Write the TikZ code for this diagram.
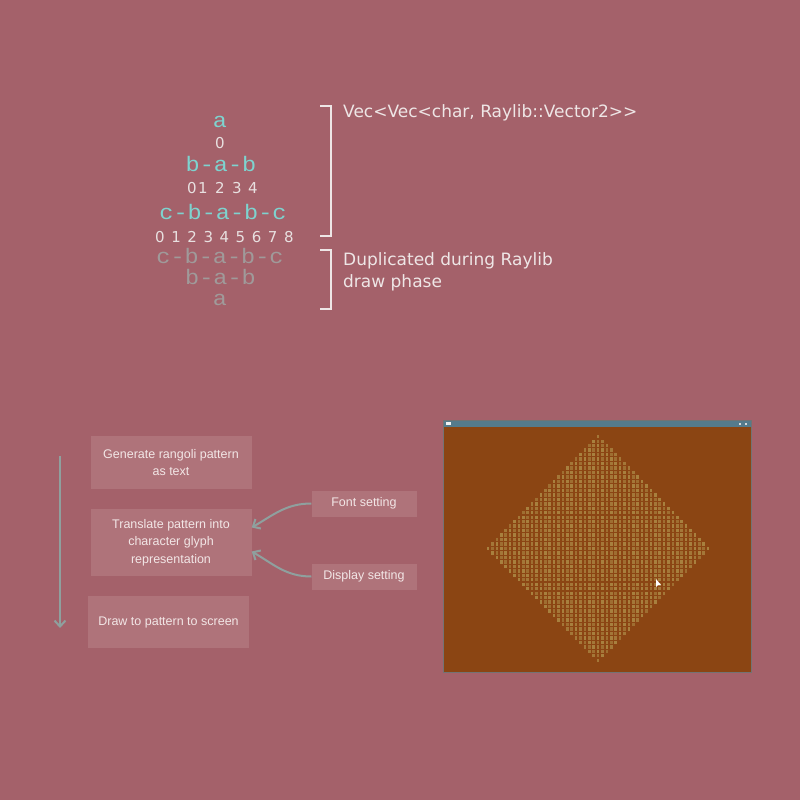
\documentclass[tikz,border=0pt]{standalone}
\usepackage{fontspec}
\setmainfont{Liberation Sans}
\newfontfamily\monofont[FakeStretch=1.12]{Liberation Mono}
\newfontfamily\dejafont{DejaVu Sans}
\usetikzlibrary{arrows.meta}

\definecolor{bgcol}{HTML}{A4616A}
\definecolor{boxcol}{HTML}{AF737A}
\definecolor{boxtext}{HTML}{F2E6E6}
\definecolor{arrowcol}{HTML}{8FA09E}
\definecolor{tealcol}{HTML}{7ED3CF}
\definecolor{dupcol}{HTML}{A09A9A}
\definecolor{digitcol}{HTML}{E8E0E0}
\definecolor{brackcol}{HTML}{EEE6E6}
\definecolor{screencol}{HTML}{8B4513}
\definecolor{titlecol}{HTML}{557B8C}
\definecolor{dotcol}{HTML}{A8803E}

\tikzset{
  stepbox/.style={fill=boxcol, text=boxtext, align=center, inner sep=0pt,
    minimum width=161pt, font=\fontsize{12.5}{17.5}\selectfont},
  sidebox/.style={stepbox, minimum width=105pt, minimum height=26pt},
  flowarrow/.style={draw=arrowcol, line width=2pt,
    -{Straight Barb[length=6pt, width=11pt, line width=2pt]}},
  letters/.style={font=\monofont\fontsize{21}{21}\selectfont, inner sep=0pt, anchor=base,
    text height=13pt, text depth=0pt},
  digit/.style={font=\dejafont\fontsize{15}{15}\selectfont, text=digitcol, inner sep=0pt, anchor=base,
    text height=11pt, text depth=0pt},
  note/.style={font=\dejafont\fontsize{17}{22}\selectfont, text=brackcol, inner sep=0pt, align=left}
}

\begin{document}
\begin{tikzpicture}[x=1pt, y=-1pt]
    % 0. Background
    \fill[bgcol] (0,0) rectangle (800,800);

    % 1. Rangoli rows as text
    \node[letters, text=tealcol] (rowA) at (220,127) {a};
    \node[digit] (numA) at (220,148) {0};
    \node[letters, text=tealcol] (rowB) at (221,171) {b-a-b};
    \foreach \d/\x in {0/192, 1/203, 2/220, 3/237, 4/253}
        \node[digit] (numB\d) at (\x,193) {\d};
    \node[letters, text=tealcol] (rowC) at (223,219) {c-b-a-b-c};
    \foreach \d in {0,...,8}
        \node[digit] (numC\d) at ({160+16.1*\d},242) {\d};
    \node[letters, text=dupcol] (dupC) at (220,263) {c-b-a-b-c};
    \node[letters, text=dupcol] (dupB) at (220.5,284) {b-a-b};
    \node[letters, text=dupcol] (dupA) at (220,305) {a};

    % 2. Brackets and their notes
    \draw[brackcol, line width=1.8pt] (320,106) -- (331,106) -- (331,236) -- (320,236);
    \draw[brackcol, line width=1.8pt] (320,250) -- (331,250) -- (331,309) -- (320,309);
    \node[note, anchor=base west] (vecType) at (343,117) {Vec<Vec<char, Raylib::Vector2>>};
    \node[note, anchor=base west] (dupNote) at (343,287) {Duplicated during Raylib\\draw phase};

    % 3. Steps of the program
    \node[stepbox, minimum height=53pt] (generate) at (171,462.5)
        {Generate rangoli pattern\\as text};
    \node[stepbox, minimum height=67pt] (translate) at (171,542.5)
        {Translate pattern into\\character glyph\\representation};
    \node[stepbox, minimum height=52pt] (drawscreen) at (168.5,622)
        {Draw to pattern to screen};
    \node[sidebox] (font) at (364,503.5) {Font setting};
    \node[sidebox] (display) at (364,576.5) {Display setting};

    \coordinate (flowTop) at (60,456);
    \coordinate (flowEnd) at (60,628);
    \draw[flowarrow] (flowTop) -- (flowEnd);
    \draw[flowarrow] (font.west) to[out=180, in=30] ([yshift=15pt]translate.east);
    \draw[flowarrow] (display.west) to[out=180, in=-30] ([yshift=-9pt]translate.east);

    % 4. Screenshot of the Raylib window
    \fill[screencol] (443,420) rectangle (751,672);
    \fill[titlecol] (443,420) rectangle (751,427);
    \fill[white!90!gray] (446,422) rectangle (451,425);
    \fill[white!70!gray] (739,422.5) rectangle (741,424.5);
    \fill[white!70!gray] (745,422.5) rectangle (747,424.5);
    \foreach \i in {-25,...,25}{
        \pgfmathtruncatemacro\n{25-abs(\i)}
        \foreach \j in {-\n,...,\n}{
            \pgfmathtruncatemacro\shade{70+15*mod(abs(\i+2*\j),3)}
            \fill[dotcol!\shade!screencol] ({598+4.4*\j-1.3}, {548.5+4.47*\i-1.7}) rectangle ++(2.6,3.4);
        }
    }
    \fill[white] (656,579) -- (656,587) -- (658,585) -- (661,585) -- cycle;
    \draw[black!55, line width=0.8pt] (443,420) rectangle (751,672);

\end{tikzpicture}
\end{document}
